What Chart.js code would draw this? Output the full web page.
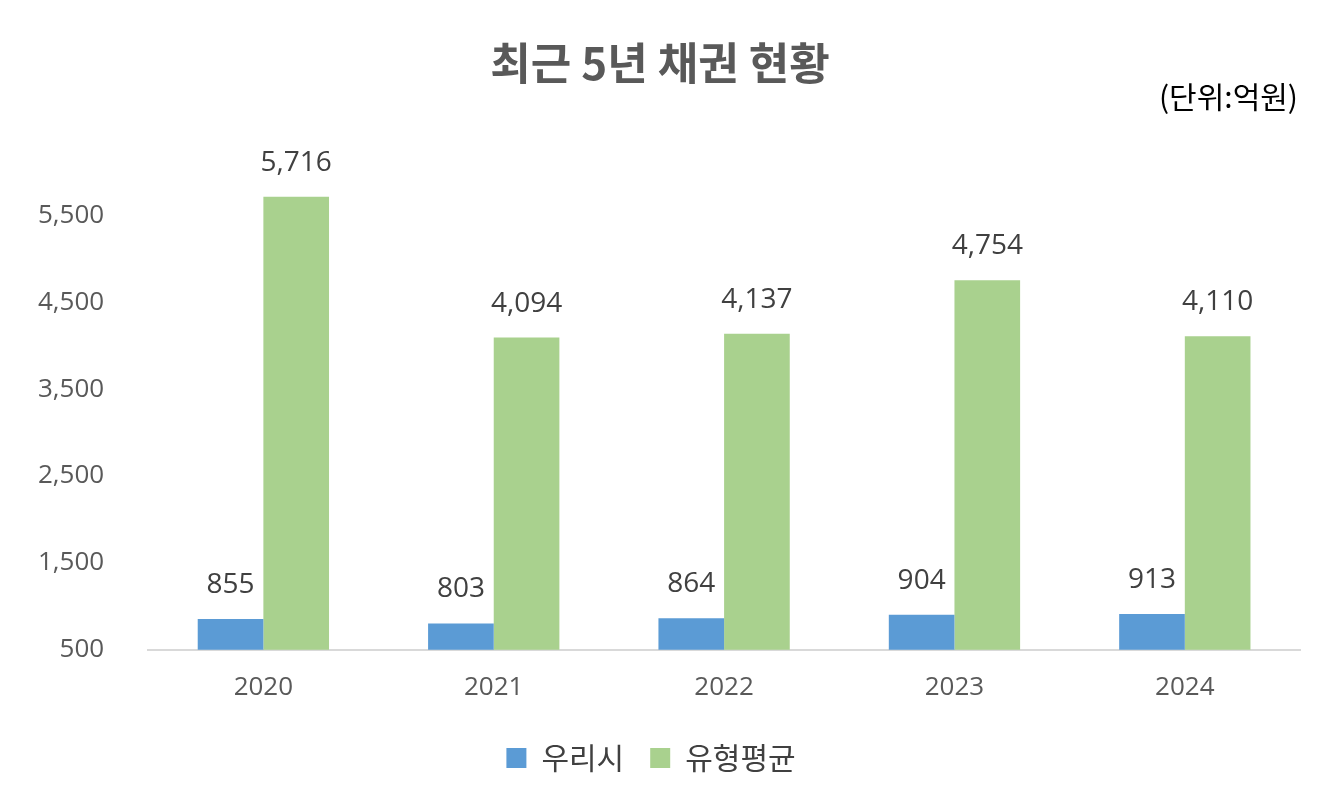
<!DOCTYPE html>
<html>
<head>
<meta charset="utf-8">
<script src="https://cdn.jsdelivr.net/npm/chart.js@4"></script>
<style>
  body { margin: 0; background: #fff; }
  #wrap { width: 1339px; height: 801px; }
</style>
</head>
<body>
<div id="wrap"><canvas id="bondChart"></canvas></div>
<script>
const years = ['2020', '2021', '2022', '2023', '2024'];
const ourCity = [855, 803, 864, 904, 913];
const typeAvg = [5716, 4094, 4137, 4754, 4110];
const yTicks = [500, 1500, 2500, 3500, 4500, 5500];

const FONT = "'Noto Sans CJK KR', 'Noto Sans', sans-serif";
const NUM_FONT = "'Open Sans', 'Noto Sans', sans-serif";

const extras = {
    id: 'extras',
    afterDraw(chart) {
        const ctx = chart.ctx;
        ctx.save();
        ctx.fillStyle = '#595959';
        ctx.font = 'bold 44px ' + FONT;
        ctx.textAlign = 'center';
        ctx.textBaseline = 'middle';
        ctx.fillText('최근 5년 채권 현황', 660, 63);
        ctx.fillStyle = '#000';
        ctx.font = '30px ' + FONT;
        ctx.textAlign = 'right';
        ctx.fillText('(단위:억원)', 1298, 97);

        ctx.fillStyle = '#404040';
        ctx.font = '28px ' + NUM_FONT;
        ctx.textAlign = 'center';
        ctx.textBaseline = 'bottom';
        chart.data.datasets.forEach((ds, i) => {
            chart.getDatasetMeta(i).data.forEach((bar, j) => {
                ctx.fillText(ds.data[j].toLocaleString('en-US'), bar.x, bar.y - 20);
            });
        });
        ctx.restore();
    }
};

new Chart(document.getElementById('bondChart'), {
    type: 'bar',
    data: {
        labels: years,
        datasets: [
            { label: '우리시', data: ourCity, backgroundColor: '#5b9bd5' },
            { label: '유형평균', data: typeAvg, backgroundColor: '#a9d18e' }
        ]
    },
    options: {
        responsive: true,
        maintainAspectRatio: false,
        animation: false,
        layout: { padding: { top: 172, left: 2, right: 39, bottom: 18 } },
        datasets: { bar: { barPercentage: 1, categoryPercentage: 0.57 } },
        scales: {
            x: {
                grid: { display: false },
                border: { color: '#d9d9d9', width: 2 },
                ticks: { color: '#595959', font: { size: 26, family: NUM_FONT }, padding: 14 }
            },
            y: {
                min: 500,
                max: 6000,
                grid: { display: false },
                border: { display: false },
                afterBuildTicks: axis => { axis.ticks = yTicks.map(v => ({ value: v })); },
                ticks: {
                    color: '#595959',
                    font: { size: 26, family: NUM_FONT },
                    padding: 36,
                    callback: v => v.toLocaleString('en-US')
                }
            }
        },
        plugins: {
            legend: {
                position: 'bottom',
                labels: {
                    color: '#404040',
                    font: { size: 30, family: FONT },
                    boxWidth: 20,
                    boxHeight: 20,
                    padding: 26
                }
            },
            tooltip: { enabled: false }
        }
    },
    plugins: [extras]
});
</script>
</body>
</html>
